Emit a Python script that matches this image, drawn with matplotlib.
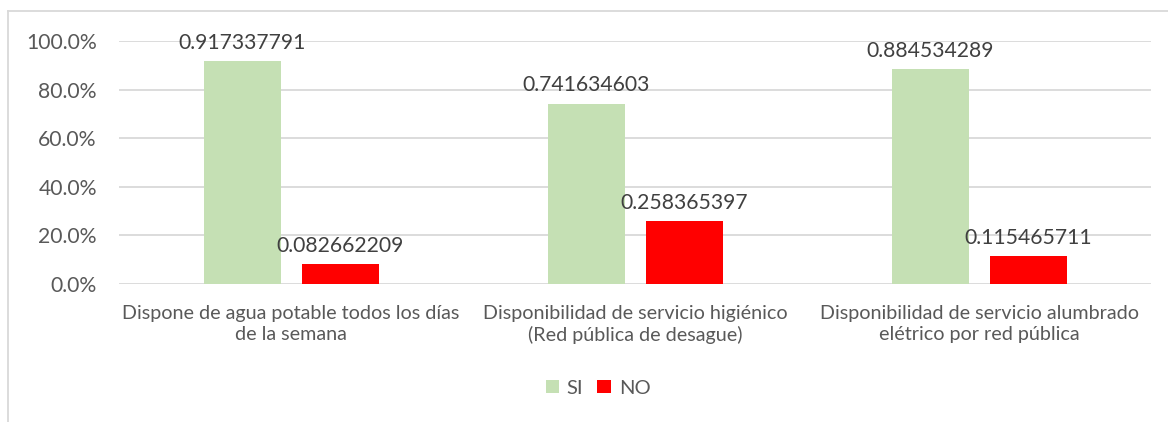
import numpy as np
import matplotlib.pyplot as plt
from matplotlib.lines import Line2D
from matplotlib.ticker import PercentFormatter

categories = ["Dispone de agua potable todos los días\nde la semana",
              "Disponibilidad de servicio higiénico\n(Red pública de desague)",
              "Disponibilidad de servicio alumbrado\nelétrico por red pública"]
si_values = [0.917337791, 0.741634603, 0.884534289]
no_values = [0.082662209, 0.258365397, 0.115465711]
series_names = ["SI", "NO"]

TEXT = "#595959"
plt.rcParams['font.family'] = ['Lato', 'DejaVu Sans']

W, H = 1168, 422
fig = plt.figure(figsize=(W / 100, H / 100), dpi=100)
ax = fig.add_axes([119 / W, 1 - 284 / H, (1151 - 119) / W, (284 - 41) / H])

x = np.arange(len(categories))
bw = 77 / 344
off = 49 / 344
b1 = ax.bar(x - off, si_values, bw, color="#C5E0B4", label=series_names[0], zorder=2)
b2 = ax.bar(x + off, no_values, bw, color="#FF0000", label=series_names[1], zorder=2)

for bars, vals in ((b1, si_values), (b2, no_values)):
    for rect, v in zip(bars, vals):
        ax.annotate("{:.9f}".format(v), (rect.get_x() + rect.get_width() / 2, v),
                    xytext=(0, 6), textcoords="offset points", ha="center", va="bottom",
                    fontsize=15.2, color="#404040")

ax.set_xlim(-0.5, 2.5)
ax.set_ylim(0, 1.0)
ax.set_yticks(np.arange(0, 1.01, 0.2))
ax.yaxis.set_major_formatter(PercentFormatter(1.0, decimals=1))
ax.grid(axis="y", color="#D9D9D9", linewidth=1.3, zorder=0)
ax.set_xticks(x)
ax.set_xticklabels(categories, fontsize=14.2, color=TEXT, linespacing=1.3)
ax.tick_params(axis="y", labelsize=15.2, labelcolor=TEXT, length=0, pad=16)
ax.tick_params(axis="x", length=0, pad=15)
for s in ax.spines.values():
    s.set_visible(False)

fig.legend(loc="center", bbox_to_anchor=(598 / W, 1 - 388 / H), ncol=2, frameon=False,
           fontsize=14.5, labelcolor=TEXT, handlelength=0.65, handleheight=0.65,
           handletextpad=0.4, columnspacing=0.7)

# chart frame (only top and left edges visible in the crop)
fig.add_artist(Line2D([8 / W, 1], [1 - 11 / H, 1 - 11 / H], color="#D9D9D9", lw=1.3))
fig.add_artist(Line2D([8 / W, 8 / W], [0, 1 - 11 / H], color="#D9D9D9", lw=1.3))

fig.savefig("out.png", dpi=100)
